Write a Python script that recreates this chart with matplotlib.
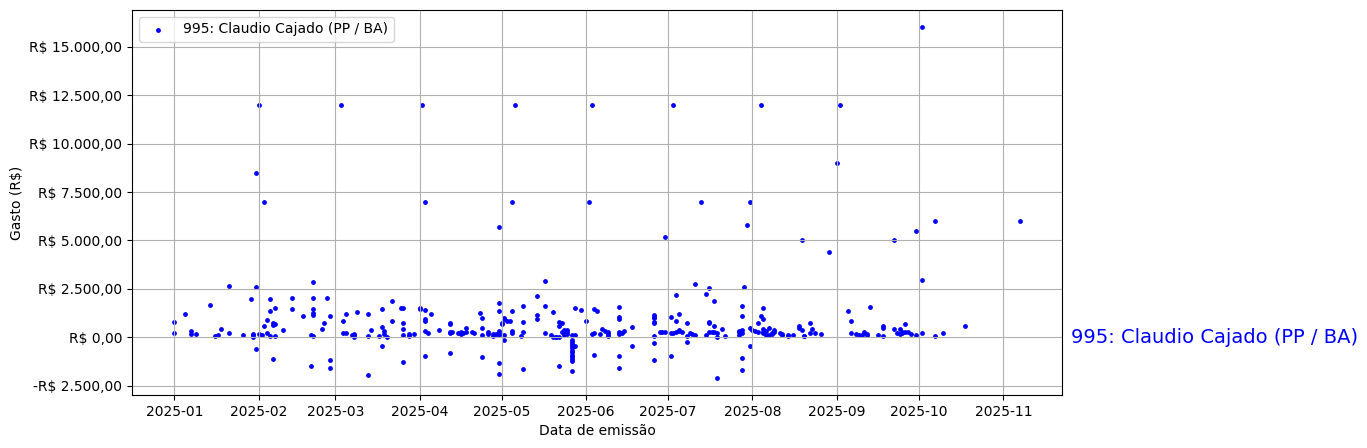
import matplotlib
matplotlib.use("Agg")
import matplotlib.pyplot as plt
import matplotlib.dates as mdates
import matplotlib.ticker as mticker
import matplotlib.transforms as mtransforms
import pandas as pd

year = 2025
label = "995: Claudio Cajado (PP / BA)"

# month-day of each expense (year 2025)
days = [
    "01-31", "02-03", "01-01", "01-01", "01-05", "01-07", "01-07", "01-09", "01-14", "01-16",
    "01-17", "01-18", "01-21", "01-21", "01-26", "01-29", "01-30", "01-30", "01-30", "01-31",
    "01-31", "02-01", "02-02", "02-03", "02-04", "02-04", "02-05", "02-05", "02-05", "02-06",
    "02-06", "02-06", "02-07", "02-07", "02-07", "02-10", "02-13", "02-13", "02-17", "02-20",
    "02-20", "02-21", "02-21", "02-21", "02-21", "02-21", "02-21", "02-24", "02-25", "02-26",
    "02-27", "02-27", "02-27", "03-04", "03-04", "03-05", "03-05", "03-07", "03-08", "03-08",
    "03-08", "03-09", "03-13", "03-13", "03-13", "03-14", "03-17", "03-18", "03-18", "03-18",
    "03-19", "03-19", "03-20", "03-22", "03-22", "03-25", "03-26", "03-26", "03-26", "03-26",
    "03-26", "03-28", "03-28", "03-30", "04-01", "04-01", "04-03", "04-03", "04-03", "04-03",
    "04-03", "04-04", "04-03", "04-05", "04-08", "04-12", "04-12", "04-12", "04-12", "04-12",
    "04-13", "04-15", "04-16", "04-16", "04-17", "04-18", "04-18", "04-20", "04-21", "04-23",
    "04-24", "04-24", "04-24", "04-24", "04-26", "04-26", "04-28", "04-28", "04-29", "04-30",
    "04-30", "04-30", "04-30", "04-30", "04-30", "04-30", "05-01", "05-01", "05-02", "05-02",
    "05-02", "05-02", "05-03", "05-04", "05-05", "05-05", "05-05", "05-05", "04-30",
    "05-09", "05-09", "05-09", "05-09", "05-08", "05-14", "05-14", "05-14", "05-17", "05-17",
    "05-17", "05-20", "05-19", "05-20", "05-21", "05-21", "05-22", "05-22", "05-22", "05-22",
    "05-23", "05-23", "05-24", "05-24", "05-24", "05-25", "05-25", "05-25",
    "05-27", "05-27", "05-27", "05-27", "05-27", "05-27", "05-27", "05-27", "05-27", "05-27",
    "05-27", "05-27", "05-28", "05-27", "05-28", "05-28", "05-30", "06-01", "06-02", "06-03",
    "06-04", "06-05", "06-04", "06-04", "06-06", "06-07", "06-08", "06-09", "06-09", "06-09",
    "06-13", "06-13", "06-13", "06-13", "06-13", "06-13", "06-13", "06-14", "06-15", "06-18",
    "06-18", "06-26", "06-26", "06-26", "06-26", "06-26", "06-26", "06-26", "06-26", "06-28",
    "06-29", "06-30", "06-30", "07-02", "07-02", "07-02", "07-03", "07-04", "07-04", "07-04",
    "07-05", "07-05", "07-05", "07-06", "07-08", "07-08", "07-08", "07-09", "07-10", "07-11",
    "07-11", "07-13", "07-15", "07-16", "07-16",
    "07-16", "07-15", "07-16", "07-17", "07-18", "07-18", "07-18", "07-19", "07-19", "07-19",
    "07-21", "07-22", "07-27", "07-27", "07-27", "07-28", "07-28", "07-28", "07-28", "07-28",
    "07-28", "07-29", "07-30", "07-31", "07-31", "07-31", "08-01", "08-02", "08-03", "08-03",
    "08-04", "08-05", "08-05", "08-05", "08-05", "08-05", "08-06", "08-06", "08-07", "08-07",
    "08-08", "08-08", "08-09", "08-09", "08-11", "08-12", "08-12", "08-14", "08-14", "08-16",
    "08-18", "08-18", "08-19", "08-19", "08-20", "08-20", "08-22", "08-22", "08-23", "08-24",
    "08-26", "08-29", "09-01", "09-05", "09-06", "09-06", "09-08", "09-09", "09-10", "09-11",
    "09-12", "09-12", "09-13", "09-16", "09-18", "09-18", "09-18", "09-22", "09-22", "09-23",
    "09-24",
    "09-24", "09-25", "09-25", "09-26", "09-26", "09-27", "09-28", "09-30", "09-30", "10-02",
    "10-02", "10-07", "10-07", "10-10", "10-18", "11-07",
    "10-02", "02-01", "03-03", "04-02", "05-06", "06-03", "07-03", "08-04", "09-02",
]

# expense value in R$
values = [
    8500, 7000, 800, 200, 1200, 330, 190, 150, 1650, 50,
    100, 410, 2640, 200, 100, 1970, 150, 30, 100, 2600,
    -620, 150, 100, 570, 880, 200, 1970, 1350, 70, 725,
    620, -1140, 690, 1500, 50, 360, 2020, 1450, 1090, 120,
    -1500, 2850, 2020, 1450, 1250, 1170, 50, 410, 725, 2020,
    1090, -1150, -1560, 830, 210, 1200, 210, 100, 160, 100,
    10, 1300, 1200, -1930, 50, 360, 50, 1460, -470, 520,
    310, 160, 10, 1870, 830, 1510, 1510, 420, 100, -1250,
    730, 160, 50, 160, 1510, 1460, 7000, 310, 1410, 940,
    830, 210, -940, 1200, 360, 730, 680, 260, -830, 210,
    260, 210, 160, 260, 210, 260, 470, 260, 210, 1250,
    100, 990, 470, -990, 160, 260, 160, 50, 160, 1770,
    1350, 310, 210, -1350, -1910, 100, 680, 730, 990, 940,
    -160, 100, 830, 830, 1350, 310, 210, 7000, 5700,
    1610, 780, -1610, 260, 50, 2140, 1150, 940, 2900, 1610,
    210, 1300, 100, 10, 10, 10, 780, 570, -1460, 10,
    730, 260, 360, 260, 100, 360, 260, 160,
    -160, -260, -370, -470, -570, -680, -780, -890, -990, -1100,
    -1200, -1720, -470, 100, 100, 1510, 1410, 830, 7000, 160,
    1460, 1350, -890, 210, 160, 420, 310, 160, 260, 50,
    1560, 1040, 940, 260, -940, -1560, 160, 210, 310, -470,
    520, 1150, 1040, 990, 730, 780, -310, -1150, 50, 260,
    260, 260, 5200, 1040, 210, -940, 210, 2190, 830, 260,
    310, 1200, 360, 260, 730, -260, 50, 210, 160, 2760,
    100, 7000, 2240, 730, 2550,
    780, 100, 260, 260, 260, 570, 1870, 10, 210, -2080,
    420, 50, 260, 100, 310, 360, 210, 1610, 1090, -1090,
    -1670, 2620, 5800, 7000, 470, -470, 360, 310, 730, 260,
    1090, 260, 1510, 940, 420, 210, 100, 310, 470, 100,
    210, 160, 360, 260, 210, 160, 100, 100, 50, 100,
    570, 470, 360, 5000, 50, 50, 210, 730, 420, 210,
    160, 4400, 9000, 1350, 830, 210, 160, 100, 100, 260,
    160, 100, 1560, 100, 570, 470, 50, 5000, 420, 210,
    420,
    160, 260, 210, 680, 260, 260, 160, 100, 5500, 2950,
    210, 6000, 50, 210, 570, 6000,
    16000, 12000, 12000, 12000, 12000, 12000, 12000, 12000, 12000,
]

dates = pd.to_datetime([f"{year}-{d}" for d in days])

fig = plt.figure(figsize=(13.67, 4.48), dpi=100)
ax = fig.add_axes([0.0966, 0.118, 0.6803, 0.86])

ax.scatter(dates, values, s=6, color="blue", label=label)

ax.xaxis.set_major_locator(mdates.MonthLocator())
ax.xaxis.set_major_formatter(mdates.DateFormatter("%Y-%m"))


def brl(v, pos=None):
    s = f"{abs(v):,.2f}".replace(",", "X").replace(".", ",").replace("X", ".")
    return ("-R$ " if v < 0 else "R$ ") + s


ax.yaxis.set_major_locator(mticker.MultipleLocator(2500))
ax.yaxis.set_major_formatter(mticker.FuncFormatter(brl))

ax.set_xlabel("Data de emissão")
ax.set_ylabel("Gasto (R$)")
ax.grid(True)
ax.legend(loc="upper left")

trans = mtransforms.blended_transform_factory(ax.transAxes, ax.transData)
ax.text(1.01, 0, label, transform=trans, color="blue", fontsize=14,
        va="center", ha="left")

fig.savefig("out.png", dpi=100)
